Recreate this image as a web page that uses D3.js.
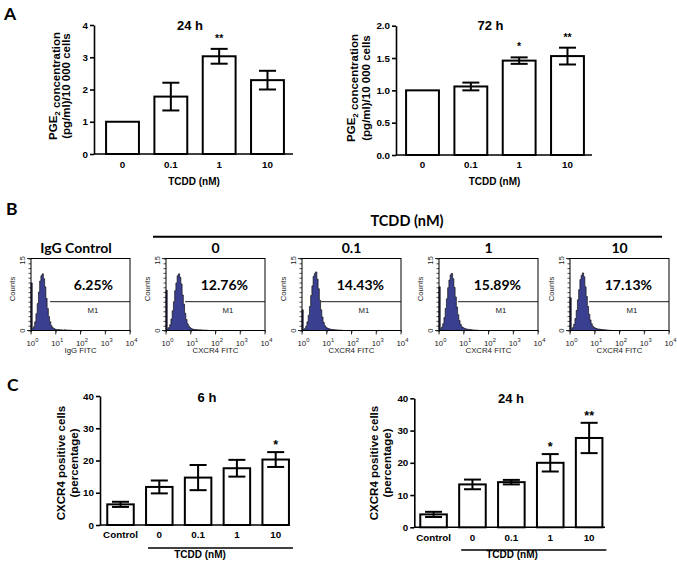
<!DOCTYPE html>
<html><head><meta charset="utf-8">
<script src="https://cdn.jsdelivr.net/npm/d3@7"></script>
<style>
body{margin:0;background:#fff}
svg{display:block}
.ar{font-family:"Liberation Sans",Arial,sans-serif;font-weight:bold}
.ln{font-family:Lato,"Open Sans",sans-serif;font-weight:bold}
.fl{font-family:"Liberation Sans",Arial,sans-serif;font-weight:normal}
</style>
</head><body>
<svg id="c" width="677" height="564"></svg>
<script>
// ---------- Panel A data ----------
const doseCats = ["0", "0.1", "1", "10"];
const pge24Mean = [1.0, 1.78, 3.03, 2.29];
const pge24Err  = [0, 0.43, 0.23, 0.29];
const pge24Sig  = ["", "", "**", ""];
const pge72Mean = [1.0, 1.06, 1.46, 1.53];
const pge72Err  = [0, 0.06, 0.05, 0.13];
const pge72Sig  = ["", "", "*", "**"];
const pge24Ticks = [0, 1, 2, 3, 4];
const pge72Ticks = [0, 0.5, 1.0, 1.5, 2.0];

// ---------- Panel B data ----------
const flowTitles   = ["IgG Control", "0", "0.1", "1", "10"];
const flowPercents = ["6.25%", "12.76%", "14.43%", "15.89%", "17.13%"];
const flowXTitles  = ["IgG FITC", "CXCR4 FITC", "CXCR4 FITC", "CXCR4 FITC", "CXCR4 FITC"];
const decadeExps   = [0, 1, 2, 3, 4];
const countTicks   = [0, 15];
const binWidthLog  = 0.05;   // log10 units per histogram bin, starting at 10^0
const m1StartLog   = 0.77;
const histIgG  = [9.9,0.4,0.8,1.8,3.5,5.6,8.0,10.3,11.4,11.8,10.8,9.1,6.7,4.6,2.9,1.8,1.0,0.6,0.4,0.3,0.2,0.15,0.2,0.1,0.15,0.1,0.1,0.15,0.1,0.05,0.1,0.05,0.05,0,0,0,0,0,0,0];
const hist0    = [8.4,0.3,0.6,1.2,2.4,4.1,6.0,8.3,9.9,11.4,11.8,11.1,9.7,7.4,5.5,3.6,2.3,1.4,0.9,0.6,0.4,0.3,0.25,0.2,0.2,0.15,0.1,0.15,0.1,0.1,0.05,0.1,0.05,0.05,0,0,0,0,0,0];
const hist01   = [4.3,0.2,0.4,0.9,1.8,3.2,5.0,7.3,9.3,11.3,11.9,12.2,10.7,8.7,6.3,4.3,2.8,1.7,1.0,0.7,0.5,0.4,0.3,0.25,0.2,0.2,0.15,0.15,0.1,0.1,0.1,0.05,0.05,0,0,0,0,0,0,0];
const hist1    = [9.1,0.3,0.7,1.4,2.7,4.6,6.6,8.9,10.5,11.6,11.9,10.8,9.0,7.0,4.9,3.3,2.1,1.3,0.8,0.6,0.45,0.35,0.3,0.25,0.2,0.2,0.15,0.1,0.1,0.1,0.05,0.05,0,0,0,0,0,0,0,0];
const hist10   = [6.8,0.3,0.6,1.3,2.5,4.2,6.4,8.5,10.6,11.5,12.0,11.2,9.1,7.1,5.0,3.4,2.2,1.4,0.9,0.65,0.5,0.4,0.3,0.3,0.25,0.2,0.2,0.15,0.15,0.1,0.1,0.05,0.05,0,0,0,0,0,0,0];
const flowHists = [histIgG, hist0, hist01, hist1, hist10];

// ---------- Panel C data ----------
const cxCats   = ["Control", "0", "0.1", "1", "10"];
const cx6Mean  = [6.4, 11.8, 14.7, 17.6, 20.3];
const cx6Err   = [0.8, 2.0, 3.9, 2.6, 2.3];
const cx6Sig   = ["", "", "", "", "*"];
const cx24Mean = [4.0, 13.3, 14.0, 20.0, 27.7];
const cx24Err  = [0.8, 1.5, 0.7, 2.7, 4.7];
const cx24Sig  = ["", "", "", "*", "**"];
const cxTicks  = [0, 10, 20, 30, 40];

const svg = d3.select("#c");

// panel letters
svg.append("text").attr("class","ln").attr("x",4).attr("y",19.5).attr("font-size",17.5).text("A");
svg.append("text").attr("class","ln").attr("x",6).attr("y",215).attr("font-size",17.5).text("B");
svg.append("text").attr("class","ln").attr("x",7).attr("y",391).attr("font-size",17.5).text("C");

function barChart(o){
  const g = svg.append("g").attr("class","ar");
  const y = d3.scaleLinear().domain(o.yDomain).range([o.yBottom, o.yTop]);
  const x = d3.scaleBand().domain(o.cats).range(o.xRange).paddingInner(o.pi).paddingOuter(o.po);
  const bw = x.bandwidth();
  const ya = g.append("g").attr("transform",`translate(${o.ax},0)`)
    .call(d3.axisLeft(y).tickValues(o.ticks).tickFormat(o.fmt).tickSize(4).tickSizeOuter(0).tickPadding(2));
  ya.selectAll("path,line").attr("stroke","#000").attr("stroke-width",1.6);
  ya.selectAll("text").attr("font-size",o.tickFs).attr("fill","#000");
  ya.attr("font-family",null).attr("font-size",null);
  g.append("line").attr("x1",o.ax).attr("x2",o.axEnd).attr("y1",o.yBottom).attr("y2",o.yBottom)
    .attr("stroke","#000").attr("stroke-width",1.6);
  g.selectAll("rect.bar").data(o.mean).join("rect").attr("class","bar")
    .attr("x",(d,i)=>x(o.cats[i])).attr("width",bw)
    .attr("y",d=>y(d)).attr("height",d=>o.yBottom-y(d))
    .attr("fill","#fff").attr("stroke","#000").attr("stroke-width",2);
  o.mean.forEach((m,i)=>{
    const e=o.err[i]; if(!e) return;
    const cx = x(o.cats[i])+bw/2;
    const eg = g.append("g").attr("stroke","#000").attr("stroke-width",2);
    eg.append("line").attr("x1",cx).attr("x2",cx).attr("y1",y(m+e)).attr("y2",y(m-e));
    eg.append("line").attr("x1",cx-o.cap/2).attr("x2",cx+o.cap/2).attr("y1",y(m+e)).attr("y2",y(m+e));
    eg.append("line").attr("x1",cx-o.cap/2).attr("x2",cx+o.cap/2).attr("y1",y(m-e)).attr("y2",y(m-e));
  });
  o.sig.forEach((s,i)=>{
    if(!s) return;
    g.append("text").attr("x",x(o.cats[i])+bw/2).attr("y",y(o.mean[i]+o.err[i])-o.starGap)
      .attr("text-anchor","middle").attr("font-size",o.starFs).text(s);
  });
  o.cats.forEach(c=>{
    g.append("text").attr("x",x(c)+bw/2).attr("y",o.labelY).attr("text-anchor","middle")
      .attr("font-size",o.tickFs).text(c);
  });
  g.append("text").attr("x",o.titleX).attr("y",o.titleY).attr("text-anchor","middle")
    .attr("font-size",13).text(o.title);
  g.append("text").attr("x",o.xtX).attr("y",o.xtY).attr("text-anchor","middle")
    .attr("font-size",10).text("TCDD (nM)");
  o.ylab.forEach((lab,k)=>{
    const t = g.append("text").attr("transform",`translate(${o.ylabX[k]},${o.ylabY}) rotate(-90)`)
      .attr("text-anchor","middle").attr("font-size",11.5);
    lab.forEach(p=>{
      if(p.sub){ t.append("tspan").attr("font-size",8).attr("dy",3).text(p.t); t.append("tspan").attr("dy",-3).text(""); }
      else t.append("tspan").text(p.t);
    });
  });
  if(o.underline){
    const [c1,c2] = o.underline;
    g.append("line").attr("x1",x(c1)+2).attr("x2",x(c2)+bw+4).attr("y1",o.ulY).attr("y2",o.ulY)
      .attr("stroke","#000").attr("stroke-width",1.6);
  }
}

const pgeLab = [[{t:"PGE"},{t:"2",sub:true},{t:" concentration"}],[{t:"(pg/ml)/10 000 cells"}]];
const cxLab  = [[{t:"CXCR4 positive cells"}],[{t:"(percentage)"}]];

barChart({cats:doseCats, mean:pge24Mean, err:pge24Err, sig:pge24Sig, yDomain:[0,4], ticks:pge24Ticks,
  fmt:d3.format("d"), yBottom:154, yTop:25, ax:94, axEnd:293, xRange:[94,296], pi:0.32, po:0.25,
  cap:17, tickFs:9.8, starFs:10.5, starGap:7, labelY:168.3, title:"24 h", titleX:190, titleY:29.5,
  xtX:194, xtY:184.5, ylab:pgeLab, ylabX:[57,70], ylabY:86});

barChart({cats:doseCats, mean:pge72Mean, err:pge72Err, sig:pge72Sig, yDomain:[0,2], ticks:pge72Ticks,
  fmt:d3.format(".1f"), yBottom:155, yTop:25.7, ax:396, axEnd:592, xRange:[394,596], pi:0.32, po:0.25,
  cap:17, tickFs:9.8, starFs:10.5, starGap:7, labelY:168.3, title:"72 h", titleX:490.5, titleY:29.5,
  xtX:494.5, xtY:184.5, ylab:pgeLab, ylabX:[355,370], ylabY:88});

barChart({cats:cxCats, mean:cx6Mean, err:cx6Err, sig:cx6Sig, yDomain:[0,40], ticks:cxTicks,
  fmt:d3.format("d"), yBottom:525, yTop:396, ax:100, axEnd:290, xRange:[99.5,296.7], pi:0.317, po:0.2,
  cap:17, tickFs:9.8, starFs:12.5, starGap:3, labelY:538.3, title:"6 h", titleX:207, titleY:401.5,
  xtX:200, xtY:558, ylab:cxLab, ylabX:[65,78], ylabY:463, underline:["0","10"], ulY:548});

barChart({cats:cxCats, mean:cx24Mean, err:cx24Err, sig:cx24Sig, yDomain:[0,40], ticks:cxTicks,
  fmt:d3.format("d"), yBottom:527.3, yTop:398.3, ax:414.3, axEnd:605, xRange:[412.5,610.2], pi:0.317, po:0.2,
  cap:17, tickFs:9.8, starFs:12.5, starGap:3, labelY:540.5, title:"24 h", titleX:511, titleY:402.7,
  xtX:512, xtY:558, ylab:cxLab, ylabX:[378,391], ylabY:463, underline:["0","10"], ulY:550});

// ---------- Panel B: flow histograms ----------
svg.append("text").attr("class","ln").attr("x",407).attr("y",226).attr("text-anchor","middle")
  .attr("font-size",14.5).text("TCDD (nM)");
svg.append("line").attr("x1",153).attr("x2",662).attr("y1",236.7).attr("y2",236.7)
  .attr("stroke","#000").attr("stroke-width",2);

const flowLefts = [31, 166, 302, 439, 570];
const boxW = 99, boxTop = 258.5, boxBottom = 330.5;

flowHists.forEach((h,i)=>{
  const left = flowLefts[i];
  const g = svg.append("g");
  const x = d3.scaleLog().domain([1,1e4]).range([left,left+boxW]);
  const y = d3.scaleLinear().domain([0,15]).range([boxBottom,boxTop]);
  const pts = h.map((v,k)=>({e:k*binWidthLog, v}));
  pts.push({e:h.length*binWidthLog, v:0});
  const area = d3.area().x(d=>x(Math.pow(10,d.e))).y0(boxBottom).y1(d=>y(d.v)).curve(d3.curveStepAfter);
  g.append("path").datum(pts).attr("d",area).attr("fill","#3b3f8f").attr("stroke","#111").attr("stroke-width",0.7);
  g.append("rect").attr("x",left).attr("y",boxTop).attr("width",boxW).attr("height",boxBottom-boxTop)
    .attr("fill","none").attr("stroke","#000").attr("stroke-width",1);
  g.append("line").attr("x1",x(Math.pow(10,m1StartLog))).attr("x2",left+boxW).attr("y1",301.7).attr("y2",301.7)
    .attr("stroke","#000").attr("stroke-width",0.9);
  g.append("text").attr("class","fl").attr("x",left+62).attr("y",312.5).attr("text-anchor","middle")
    .attr("font-size",7.8).attr("fill","#222").text("M1");
  g.append("text").attr("class","ln").attr("x",left+82).attr("y",290).attr("text-anchor","end")
    .attr("font-size",14).text(flowPercents[i]);
  g.append("text").attr("class","ln").attr("x",i===0?76:left+boxW/2).attr("y",253).attr("text-anchor","middle")
    .attr("font-size",14).text(flowTitles[i]);
  const xa = g.append("g").attr("transform",`translate(0,${boxBottom})`)
    .call(d3.axisBottom(x).ticks(4).tickSize(2).tickFormat(""));
  xa.select(".domain").remove();
  xa.selectAll("line").attr("stroke","#000").attr("stroke-width",0.7);
  decadeExps.forEach(p=>{
    g.append("line").attr("x1",x(Math.pow(10,p))).attr("x2",x(Math.pow(10,p))).attr("y1",boxBottom).attr("y2",boxBottom+4)
      .attr("stroke","#000").attr("stroke-width",0.8);
    const t = g.append("text").attr("class","fl").attr("x",x(Math.pow(10,p))+1.5).attr("y",345.5)
      .attr("text-anchor","middle").attr("font-size",7.8).attr("fill","#222");
    t.append("tspan").text("10");
    t.append("tspan").attr("font-size",5.8).attr("dy",-3.5).text(p);
  });
  g.append("text").attr("class","fl").attr("x",left+boxW/2).attr("y",353).attr("text-anchor","middle")
    .attr("font-size",7.8).attr("fill","#222").text(flowXTitles[i]);
  const ya = g.append("g").attr("transform",`translate(${left},0)`)
    .call(d3.axisLeft(y).ticks(15).tickSize(2.5).tickFormat(""));
  ya.select(".domain").remove();
  ya.selectAll("line").attr("stroke","#000").attr("stroke-width",0.7);
  countTicks.forEach(c=>{
    g.append("line").attr("x1",left-4).attr("x2",left).attr("y1",y(c)).attr("y2",y(c)).attr("stroke","#000").attr("stroke-width",0.8);
    g.append("text").attr("class","fl").attr("transform",`translate(${left-6.5},${y(c)+(c===0?0:2)}) rotate(-90)`)
      .attr("text-anchor","middle").attr("font-size",7.8).attr("fill","#222").text(c);
  });
  g.append("text").attr("class","fl").attr("transform",`translate(${left-16.3},289) rotate(-90)`)
    .attr("text-anchor","middle").attr("font-size",7.8).attr("fill","#222").text("Counts");
});
</script>
</body></html>
